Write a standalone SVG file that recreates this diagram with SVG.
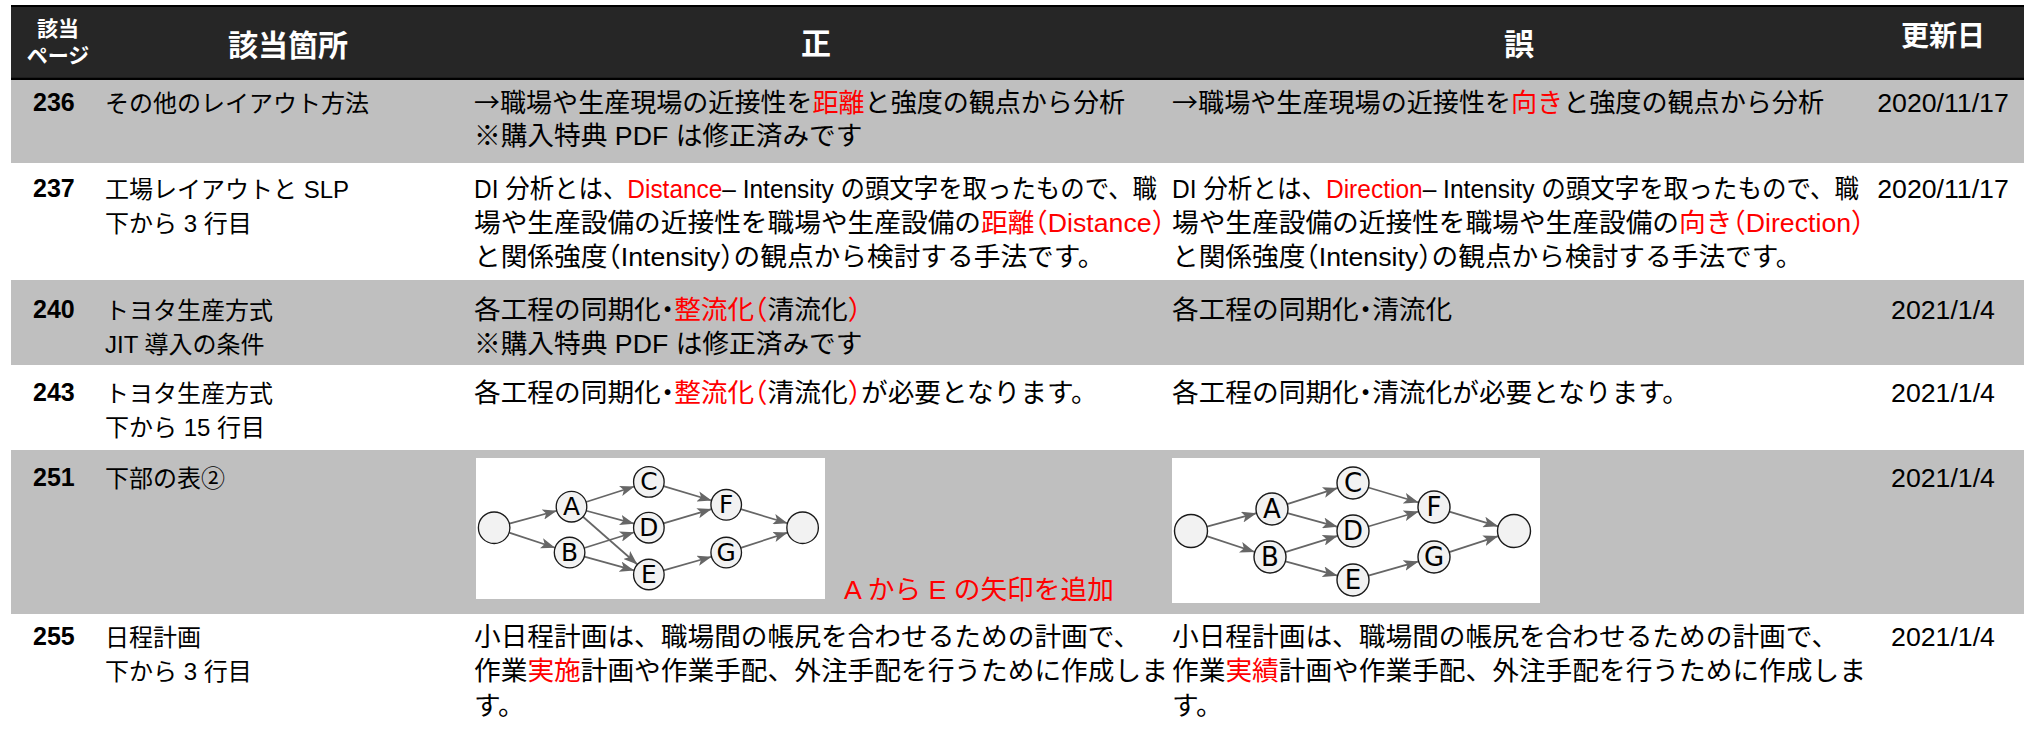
<svg xmlns="http://www.w3.org/2000/svg" width="2033" height="735" viewBox="0 0 2033 735">
<defs>
<style>
.t{font-family:"Liberation Sans","Noto Sans CJK JP",sans-serif;font-size:26.7px;fill:#000}
.loc{font-size:24px}
.num{font-family:"Liberation Sans",sans-serif;font-weight:bold;font-size:25px;fill:#000}
.h{font-family:"Noto Sans CJK JP",sans-serif;font-weight:bold;fill:#fff;text-anchor:middle}
.r{fill:#ff0000}
.hw{font-feature-settings:"halt"}
.cj{font-family:"Noto Sans CJK JP",sans-serif}
.d{text-anchor:middle}
.gray{fill:#bfbfbf}
.white{fill:#ffffff}
.nd{fill:#f2f2f2;stroke:#1a1a1a;stroke-width:1.4}
.nl{font-family:"DejaVu Sans",sans-serif;font-size:26px;fill:#000;text-anchor:middle}
.e{stroke:#666;stroke-width:1.8;fill:none;marker-end:url(#ah)}
</style>
<marker id="ah" markerUnits="userSpaceOnUse" markerWidth="15" markerHeight="11" refX="15" refY="5.5" orient="auto" viewBox="0 0 15 11">
<path d="M0,0 L15,5.5 L0,11 L3.5,5.5 z" fill="#666"/>
</marker>
</defs>
<rect x="0" y="0" width="2033" height="735" fill="#fff"/>

<g id="header">
<rect x="11" y="6" width="2013" height="73" fill="#262626"/>
<line x1="11" y1="6" x2="2024" y2="6" stroke="#000" stroke-width="2"/>
<line x1="11" y1="79" x2="2024" y2="79" stroke="#000" stroke-width="2.5"/>
<text class="h" x="58" y="36" font-size="21">該当</text>
<text class="h" x="58" y="63" font-size="21">ページ</text>
<text class="h" x="288" y="56" font-size="30">該当箇所</text>
<text class="h" x="816" y="54" font-size="30">正</text>
<text class="h" x="1519" y="55" font-size="30">誤</text>
<text class="h" x="1943" y="46" font-size="28">更新日</text>
</g>

<g id="row236">
<rect class="gray" x="11" y="80" width="2013" height="83"/>
<text class="num" x="33" y="111">236</text>
<text class="t loc" x="105" y="112">その他のレイアウト方法</text>
<text class="t" x="474" y="112" textLength="651" lengthAdjust="spacingAndGlyphs"><tspan class="cj">→</tspan>職場や生産現場の近接性を<tspan class="r">距離</tspan>と強度の観点から分析</text>
<text class="t" x="474" y="145">※購入特典 PDF は修正済みです</text>
<text class="t" x="1172" y="112" textLength="652" lengthAdjust="spacingAndGlyphs"><tspan class="cj">→</tspan>職場や生産現場の近接性を<tspan class="r">向き</tspan>と強度の観点から分析</text>
<text class="t d" x="1943" y="112">2020/11/17</text>
</g>

<g id="row237">
<rect class="white" x="11" y="163" width="2013" height="117"/>
<text class="num" x="33" y="197">237</text>
<text class="t loc" x="105" y="198">工場レイアウトと SLP</text>
<text class="t loc" x="105" y="232">下から 3 行目</text>
<text class="t" x="474" y="198" textLength="683" lengthAdjust="spacingAndGlyphs">DI 分析とは、<tspan class="r">Distance</tspan>– Intensity の頭文字を取ったもので、職</text>
<text class="t" x="474" y="232">場や生産設備の近接性を職場や生産設備の<tspan class="r">距離<tspan class="hw">（</tspan>Distance<tspan class="hw">）</tspan></tspan></text>
<text class="t" x="474" y="266">と関係強度<tspan class="hw">（</tspan>Intensity<tspan class="hw">）</tspan>の観点から検討する手法です。</text>
<text class="t" x="1172" y="198" textLength="687" lengthAdjust="spacingAndGlyphs">DI 分析とは、<tspan class="r">Direction</tspan>– Intensity の頭文字を取ったもので、職</text>
<text class="t" x="1172" y="232">場や生産設備の近接性を職場や生産設備の<tspan class="r">向き<tspan class="hw">（</tspan>Direction<tspan class="hw">）</tspan></tspan></text>
<text class="t" x="1172" y="266">と関係強度<tspan class="hw">（</tspan>Intensity<tspan class="hw">）</tspan>の観点から検討する手法です。</text>
<text class="t d" x="1943" y="198">2020/11/17</text>
</g>

<g id="row240">
<rect class="gray" x="11" y="280" width="2013" height="85"/>
<text class="num" x="33" y="318">240</text>
<text class="t loc" x="105" y="319">トヨタ生産方式</text>
<text class="t loc" x="105" y="353">JIT 導入の条件</text>
<text class="t" x="474" y="319">各工程の同期化<tspan class="hw">・</tspan><tspan class="r">整流化<tspan class="hw">（</tspan></tspan>清流化<tspan class="r hw">）</tspan></text>
<text class="t" x="474" y="353">※購入特典 PDF は修正済みです</text>
<text class="t" x="1172" y="319">各工程の同期化<tspan class="hw">・</tspan>清流化</text>
<text class="t d" x="1943" y="319">2021/1/4</text>
</g>

<g id="row243">
<rect class="white" x="11" y="365" width="2013" height="85"/>
<text class="num" x="33" y="401">243</text>
<text class="t loc" x="105" y="402">トヨタ生産方式</text>
<text class="t loc" x="105" y="436">下から 15 行目</text>
<text class="t" x="474" y="402">各工程の同期化<tspan class="hw">・</tspan><tspan class="r">整流化<tspan class="hw">（</tspan></tspan>清流化<tspan class="r hw">）</tspan>が必要となります。</text>
<text class="t" x="1172" y="402">各工程の同期化<tspan class="hw">・</tspan>清流化が必要となります。</text>
<text class="t d" x="1943" y="402">2021/1/4</text>
</g>

<g id="row251">
<rect class="gray" x="11" y="450" width="2013" height="164"/>
<text class="num" x="33" y="486">251</text>
<text class="t loc" x="105" y="487">下部の表②</text>
<rect x="476" y="458" width="349" height="141" fill="#fff"/>
<rect x="1172" y="458" width="368" height="145" fill="#fff"/>
<text class="t r" x="844" y="599" font-size="25">A から E の矢印を追加</text>
<text class="t d" x="1943" y="487">2021/1/4</text>
</g>

<g id="graph-correct" transform="translate(476,458) scale(0.955)">
<g id="connectors-correct">
<line class="e" x1="34.9" y1="68.7" x2="84.6" y2="55.2"/>
<line class="e" x1="34.7" y1="78.2" x2="82.8" y2="94.0"/>
<line class="e" x1="115.2" y1="46.1" x2="165.8" y2="29.9"/>
<line class="e" x1="115.4" y1="55.2" x2="165.6" y2="68.8"/>
<line class="e" x1="112.0" y1="61.5" x2="169.0" y2="111.5"/>
<line class="e" x1="113.3" y1="94.2" x2="165.7" y2="77.8"/>
<line class="e" x1="113.4" y1="103.3" x2="165.6" y2="117.7"/>
<line class="e" x1="196.3" y1="29.5" x2="246.7" y2="44.5"/>
<line class="e" x1="196.3" y1="68.5" x2="246.7" y2="53.5"/>
<line class="e" x1="196.4" y1="117.6" x2="246.6" y2="103.4"/>
<line class="e" x1="277.3" y1="53.6" x2="326.2" y2="68.3"/>
<line class="e" x1="277.2" y1="94.1" x2="326.3" y2="78.1"/>
</g>
<g id="c-start"><circle class="nd" cx="19" cy="73" r="16.5"/></g>
<g id="c-A"><circle class="nd" cx="100" cy="51" r="16"/><text class="nl" x="100" y="60">A</text></g>
<g id="c-B"><circle class="nd" cx="98" cy="99" r="16"/><text class="nl" x="98" y="108">B</text></g>
<g id="c-C"><circle class="nd" cx="181" cy="25" r="16"/><text class="nl" x="181" y="34">C</text></g>
<g id="c-D"><circle class="nd" cx="181" cy="73" r="16"/><text class="nl" x="181" y="82">D</text></g>
<g id="c-E"><circle class="nd" cx="181" cy="122" r="16"/><text class="nl" x="181" y="131">E</text></g>
<g id="c-F"><circle class="nd" cx="262" cy="49" r="16"/><text class="nl" x="262" y="58">F</text></g>
<g id="c-G"><circle class="nd" cx="262" cy="99" r="16"/><text class="nl" x="262" y="108">G</text></g>
<g id="c-end"><circle class="nd" cx="342" cy="73" r="16.5"/></g>
</g>

<g id="graph-wrong" transform="translate(1172,458)">
<g id="connectors-wrong">
<line class="e" x1="34.9" y1="68.7" x2="84.6" y2="55.2"/>
<line class="e" x1="34.7" y1="78.2" x2="82.8" y2="94.0"/>
<line class="e" x1="115.2" y1="46.1" x2="165.8" y2="29.9"/>
<line class="e" x1="115.4" y1="55.2" x2="165.6" y2="68.8"/>
<line class="e" x1="113.3" y1="94.2" x2="165.7" y2="77.8"/>
<line class="e" x1="113.4" y1="103.3" x2="165.6" y2="117.7"/>
<line class="e" x1="196.3" y1="29.5" x2="246.7" y2="44.5"/>
<line class="e" x1="196.3" y1="68.5" x2="246.7" y2="53.5"/>
<line class="e" x1="196.4" y1="117.6" x2="246.6" y2="103.4"/>
<line class="e" x1="277.3" y1="53.6" x2="326.2" y2="68.3"/>
<line class="e" x1="277.2" y1="94.1" x2="326.3" y2="78.1"/>
</g>
<g id="w-start"><circle class="nd" cx="19" cy="73" r="16.5"/></g>
<g id="w-A"><circle class="nd" cx="100" cy="51" r="16"/><text class="nl" x="100" y="60">A</text></g>
<g id="w-B"><circle class="nd" cx="98" cy="99" r="16"/><text class="nl" x="98" y="108">B</text></g>
<g id="w-C"><circle class="nd" cx="181" cy="25" r="16"/><text class="nl" x="181" y="34">C</text></g>
<g id="w-D"><circle class="nd" cx="181" cy="73" r="16"/><text class="nl" x="181" y="82">D</text></g>
<g id="w-E"><circle class="nd" cx="181" cy="122" r="16"/><text class="nl" x="181" y="131">E</text></g>
<g id="w-F"><circle class="nd" cx="262" cy="49" r="16"/><text class="nl" x="262" y="58">F</text></g>
<g id="w-G"><circle class="nd" cx="262" cy="99" r="16"/><text class="nl" x="262" y="108">G</text></g>
<g id="w-end"><circle class="nd" cx="342" cy="73" r="16.5"/></g>
</g>

<g id="row255">
<rect class="white" x="11" y="614" width="2013" height="121"/>
<text class="num" x="33" y="645">255</text>
<text class="t loc" x="105" y="646">日程計画</text>
<text class="t loc" x="105" y="680">下から 3 行目</text>
<text class="t" x="474" y="646">小日程計画は、職場間の帳尻を合わせるための計画で、</text>
<text class="t" x="474" y="680">作業<tspan class="r">実施</tspan>計画や作業手配、外注手配を行うために作成しま</text>
<text class="t" x="474" y="715">す。</text>
<text class="t" x="1172" y="646">小日程計画は、職場間の帳尻を合わせるための計画で、</text>
<text class="t" x="1172" y="680">作業<tspan class="r">実績</tspan>計画や作業手配、外注手配を行うために作成しま</text>
<text class="t" x="1172" y="715">す。</text>
<text class="t d" x="1943" y="646">2021/1/4</text>
</g>
</svg>
